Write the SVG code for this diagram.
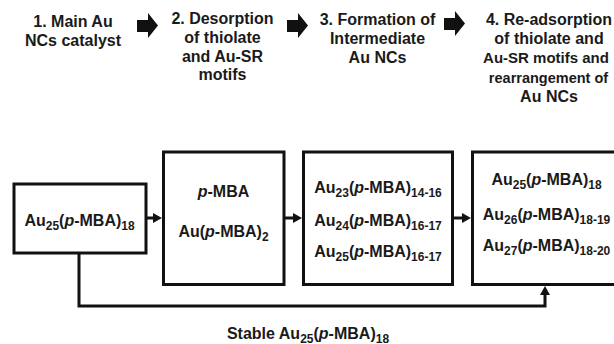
<svg xmlns="http://www.w3.org/2000/svg" width="614" height="344" viewBox="0 0 614 344">
<style>
text{font-family:"Liberation Sans",Arial,sans-serif;font-weight:bold;font-size:16px;fill:#1a1a1a;text-anchor:middle}
.s{font-size:12px}
.i{font-style:italic}
.box{fill:#fff;stroke:#111;stroke-width:3}
.con{fill:none;stroke:#111;stroke-width:3}
.blk{fill:#111}
</style>
<defs>
<marker id="ah" markerUnits="userSpaceOnUse" markerWidth="10" markerHeight="10" refX="3" refY="5" orient="auto">
<path d="M0,0 L9,5 L0,10 Z" fill="#111"/>
</marker>
<path id="bigArrow" d="M0,7 H11 V0 L21,12.5 L11,25 V19 H0 Z"/>
</defs>

<g id="headers">
<g id="step1"><text x="73" y="26.5">1. Main Au</text><text x="73" y="45.5">NCs catalyst</text></g>
<g id="step2"><text x="222.5" y="24.3">2. Desorption</text><text x="222.5" y="43">of thiolate</text><text x="222.5" y="61.7">and Au-SR</text><text x="222.5" y="80.3">motifs</text></g>
<g id="step3"><text x="377.5" y="25">3. Formation of</text><text x="377.5" y="44.2">Intermediate</text><text x="377.5" y="63.3">Au NCs</text></g>
<g id="step4"><text x="549" y="25">4. Re-adsorption</text><text x="549" y="44.2">of thiolate and</text><text x="546" y="63.3" style="font-size:15px">Au-SR motifs and</text><text x="548.5" y="82.5" style="font-size:14.5px">rearrangement of</text><text x="549" y="101.7">Au NCs</text></g>
<use href="#bigArrow" class="blk" x="137" y="13"/>
<use href="#bigArrow" class="blk" x="287" y="13"/>
<use href="#bigArrow" class="blk" x="444" y="11"/>
</g>

<g id="connectors">
<line class="con" x1="147" y1="218" x2="156" y2="218" marker-end="url(#ah)"/>
<line class="con" x1="285" y1="218" x2="296" y2="218" marker-end="url(#ah)"/>
<line class="con" x1="454" y1="218" x2="465" y2="218" marker-end="url(#ah)"/>
<path class="con" d="M79,254 V306 H545 V292" marker-end="url(#ah)"/>
</g>

<g id="node1">
<rect class="box" x="14" y="184" width="132" height="69"/>
<text x="79.5" y="225.5">Au<tspan class="s" dy="4">25</tspan><tspan dy="-4">(</tspan><tspan class="i">p</tspan>-MBA)<tspan class="s" dy="4">18</tspan></text>
</g>

<g id="node2">
<rect class="box" x="163.5" y="152" width="120.5" height="132.5"/>
<text x="223.5" y="196.7"><tspan class="i">p</tspan>-MBA</text>
<text x="223.5" y="236.7">Au(<tspan class="i">p</tspan>-MBA)<tspan class="s" dy="4">2</tspan></text>
</g>

<g id="node3">
<rect class="box" x="303.5" y="152" width="149" height="132.5"/>
<text x="378" y="193">Au<tspan class="s" dy="4">23</tspan><tspan dy="-4">(</tspan><tspan class="i">p</tspan>-MBA)<tspan class="s" dy="4">14-16</tspan></text>
<text x="378" y="226">Au<tspan class="s" dy="4">24</tspan><tspan dy="-4">(</tspan><tspan class="i">p</tspan>-MBA)<tspan class="s" dy="4">16-17</tspan></text>
<text x="378" y="257">Au<tspan class="s" dy="4">25</tspan><tspan dy="-4">(</tspan><tspan class="i">p</tspan>-MBA)<tspan class="s" dy="4">16-17</tspan></text>
</g>

<g id="node4">
<rect class="box" x="472.5" y="152" width="150" height="132.5"/>
<text x="546.5" y="185">Au<tspan class="s" dy="4">25</tspan><tspan dy="-4">(</tspan><tspan class="i">p</tspan>-MBA)<tspan class="s" dy="4">18</tspan></text>
<text x="546.5" y="220">Au<tspan class="s" dy="4">26</tspan><tspan dy="-4">(</tspan><tspan class="i">p</tspan>-MBA)<tspan class="s" dy="4">18-19</tspan></text>
<text x="546.5" y="251">Au<tspan class="s" dy="4">27</tspan><tspan dy="-4">(</tspan><tspan class="i">p</tspan>-MBA)<tspan class="s" dy="4">18-20</tspan></text>
</g>

<g id="label-stable">
<text x="308" y="338.5">Stable Au<tspan class="s" dy="4">25</tspan><tspan dy="-4">(</tspan><tspan class="i">p</tspan>-MBA)<tspan class="s" dy="4">18</tspan></text>
</g>
</svg>
